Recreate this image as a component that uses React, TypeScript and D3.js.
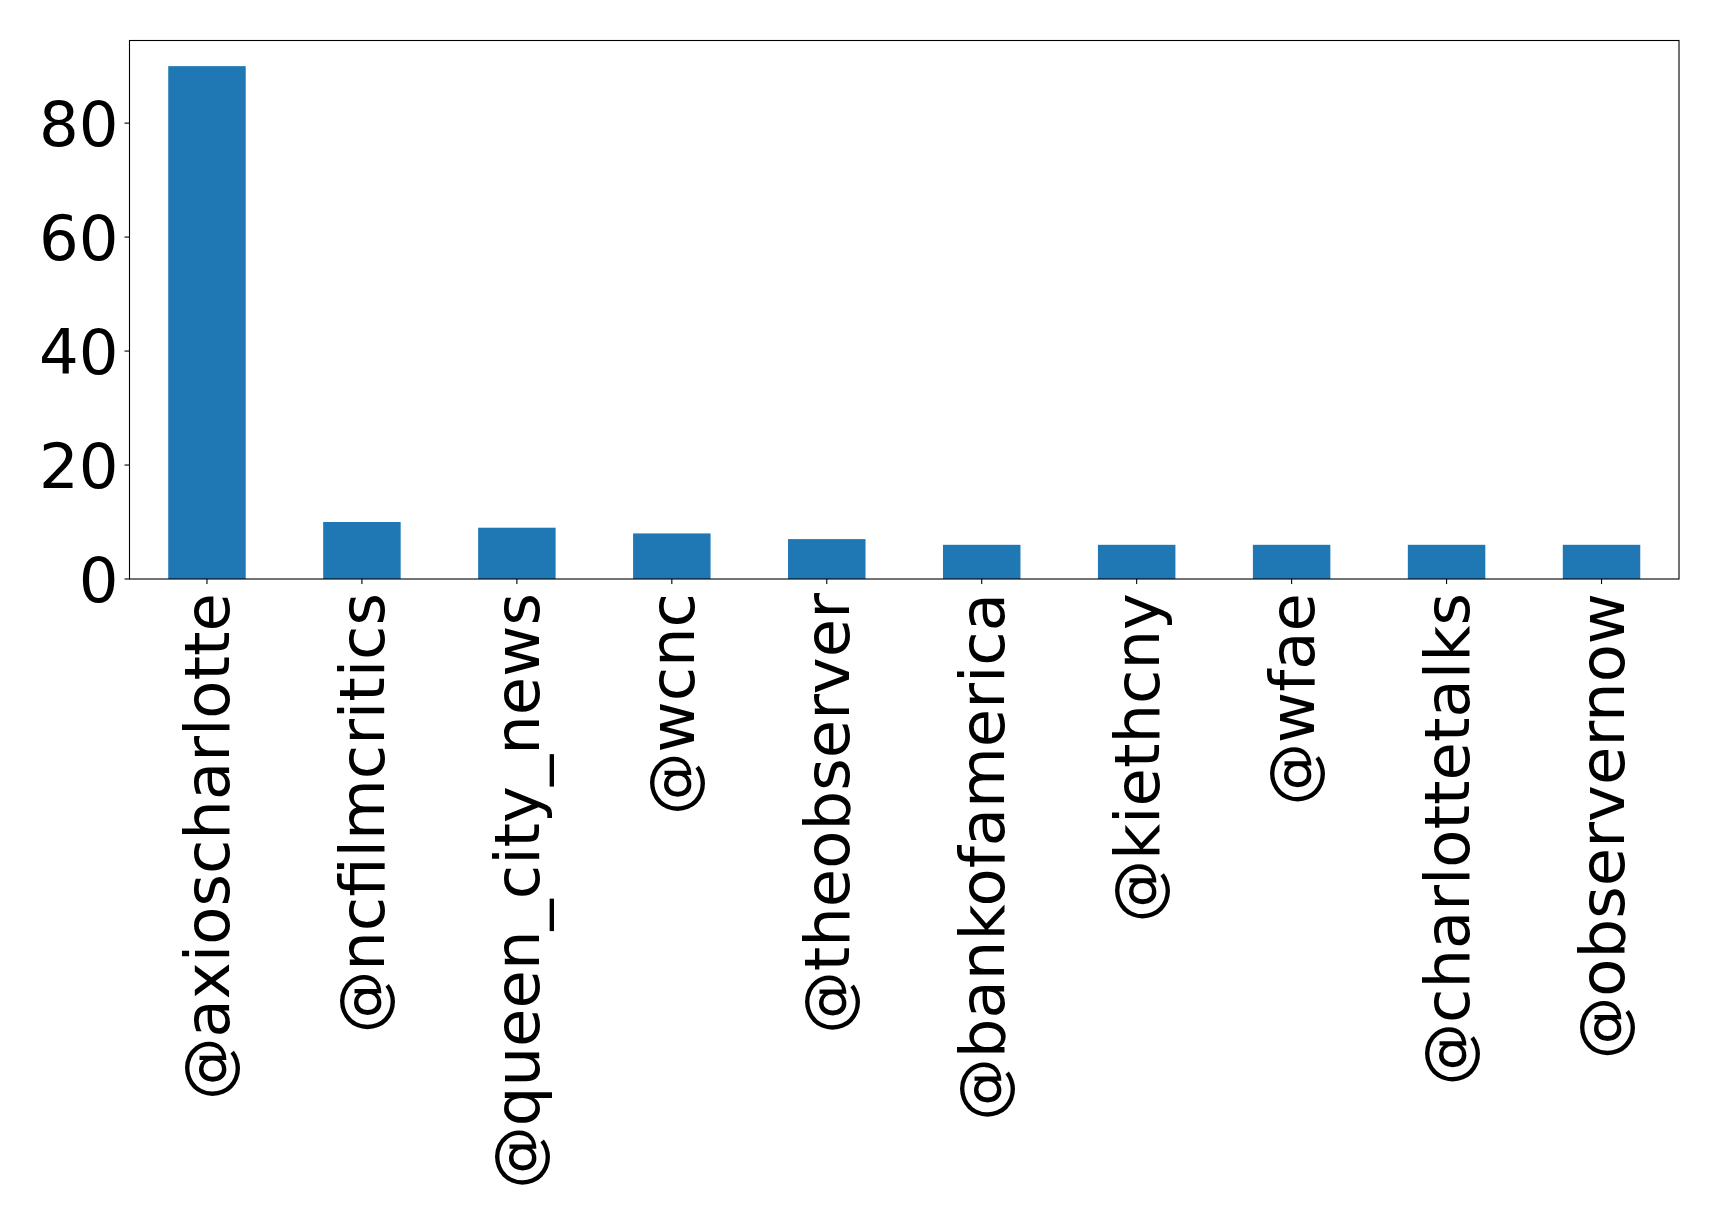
import React from "react";
import * as d3 from "d3";

// Mentions per account
const accounts = [
  "@axioscharlotte",
  "@ncfilmcritics",
  "@queen_city_news",
  "@wcnc",
  "@theobserver",
  "@bankofamerica",
  "@kiethcny",
  "@wfae",
  "@charlottetalks",
  "@observernow",
];
const counts = [90, 10, 9, 8, 7, 6, 6, 6, 6, 6];
const yTicks = [0, 20, 40, 60, 80];

const W = 1719;
const H = 1224;
const margin = { left: 129.5, right: 40, top: 40.5, bottom: 645 };
const FONT = "'DejaVu Sans', sans-serif";
const FONT_SIZE = 62.5;
const BAR_COLOR = "#1f77b4";

export default function App() {
  const x0 = margin.left;
  const x1 = W - margin.right;
  const y0 = H - margin.bottom;
  const y1 = margin.top;

  const x = d3.scaleLinear().domain([-0.5, accounts.length - 0.5]).range([x0, x1]);
  const yMax = d3.max(counts)! * 1.05;
  const y = d3.scaleLinear().domain([0, yMax]).range([y0, y1]);
  const barW = x(0.25) - x(-0.25);

  return (
    <div style={{ position: "absolute", left: 0, top: 0 }}>
      <svg width={W} height={H} style={{ display: "block", background: "#fff" }}>
        {counts.map((v, i) => (
          <rect
            key={accounts[i]}
            x={x(i) - barW / 2}
            y={y(v)}
            width={barW}
            height={y(0) - y(v)}
            fill={BAR_COLOR}
          />
        ))}
        <rect
          x={x0}
          y={y1}
          width={x1 - x0}
          height={y0 - y1}
          fill="none"
          stroke="#000"
          strokeWidth={1.1}
        />
        {yTicks.map((t) => (
          <g key={t} transform={`translate(0,${y(t)})`}>
            <line x1={x0 - 5} x2={x0} stroke="#000" strokeWidth={1.1} />
            <text
              x={x0 - 11}
              dy="0.36em"
              textAnchor="end"
              fontFamily={FONT}
              fontSize={FONT_SIZE}
              fill="#000"
            >
              {t}
            </text>
          </g>
        ))}
        {accounts.map((a, i) => (
          <g key={a} transform={`translate(${x(i)},${y0})`}>
            <line y1={0} y2={5} stroke="#000" strokeWidth={1.1} />
            <text
              transform="translate(0,14) rotate(-90)"
              textAnchor="end"
              dy="0.36em"
              fontFamily={FONT}
              fontSize={FONT_SIZE}
              fill="#000"
            >
              {a}
            </text>
          </g>
        ))}
      </svg>
    </div>
  );
}
